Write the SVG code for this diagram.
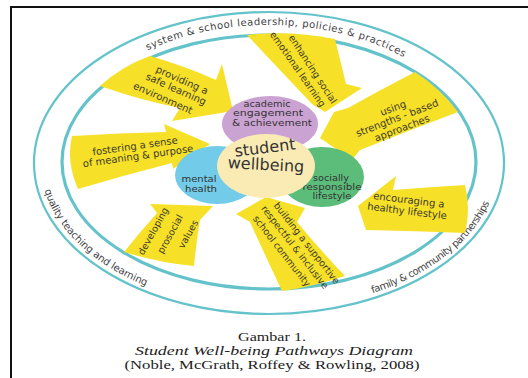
<svg xmlns="http://www.w3.org/2000/svg" width="528" height="378" viewBox="0 0 528 378">
<style>
.arrow{fill:#f6e128}
.at{font-family:"DejaVu Sans",sans-serif;font-size:10px;fill:#3d3a2a;text-anchor:middle}
.ct{font-family:"DejaVu Sans",sans-serif;font-size:8.8px;fill:#333;text-anchor:middle}
.big{font-size:16px}
.rt{font-family:"DejaVu Sans",sans-serif;font-size:10px;fill:#444}
.ring{fill:none;stroke:#64c3ca}
.cap{font-family:"Liberation Serif",serif;font-size:12.5px;fill:#222;text-anchor:middle}
.frame{stroke:#111;stroke-width:2;fill:none}
</style>
<defs>
<path id="pTop" d="M59 163 A210 138 0 0 1 479 163"/>
<path id="pLeft" d="M44 188.3 A229 146 0 0 0 269 309"/>
<path id="pRight" d="M365.8 295.3 A229 146 0 0 0 498 163"/>
</defs>
<rect width="528" height="378" fill="#fff"/>
<path class="frame" d="M11 378 V7 H528"/>

<g id="rings">
<ellipse class="ring" cx="269" cy="163" rx="235" ry="151" stroke-width="2.2"/>
<ellipse class="ring" cx="269" cy="162" rx="207" ry="127" stroke-width="3.2"/>
<text class="rt"><textPath href="#pTop" startOffset="151" textLength="265">system &amp; school leadership, policies &amp; practices</textPath></text>
<text class="rt"><textPath href="#pLeft" startOffset="2" textLength="144">quality teaching and learning</textPath></text>
<text class="rt"><textPath href="#pRight" startOffset="7" textLength="152">family &amp; community partnerships</textPath></text>
</g>

<g id="arrow-safe">
<path class="arrow" d="M100 86 Q122 66 150 56 Q185 66 216 80 L222 64 L233 111 L172 121 L180 108 Q140 100 100 86 Z"/>
<text class="at" transform="translate(182 80) rotate(24)" y="3.5">providing a</text>
<text class="at" transform="translate(176 89) rotate(24)" y="3.5">safe learning</text>
<text class="at" transform="translate(163 98) rotate(24)" y="3.5">environment</text>
</g>
<g id="arrow-social">
<path class="arrow" d="M247 35 Q290 30 335 39 L346 84 L362 88 L325 112 L312 104 Q280 70 247 35 Z"/>
<text class="at" style="font-size:9.5px" transform="translate(313 69) rotate(57)" y="3.5">enhancing social</text>
<text class="at" style="font-size:9.5px" transform="translate(298 69) rotate(55)" y="3.5">emotional learning</text>
</g>
<g id="arrow-strengths">
<path class="arrow" d="M415 72 Q440 88 458 112 Q410 130 360 150 L352 160 L320 138 L334 112 L348 108 Q380 90 415 72 Z"/>
<text class="at" transform="translate(393 108) rotate(-21)" y="3.5">using</text>
<text class="at" transform="translate(397 118) rotate(-21)" y="3.5">strengths - based</text>
<text class="at" transform="translate(402 128) rotate(-21)" y="3.5">approaches</text>
</g>
<g id="arrow-meaning">
<path class="arrow" d="M72 136 Q120 133 166 132 L164 124 L210 144 L173 169 L172 163 Q125 175 78 189 Q66 162 72 136 Z"/>
<text class="at" transform="translate(135 146) rotate(-8)" y="3.5">fostering a sense</text>
<text class="at" transform="translate(138 156) rotate(-8)" y="3.5">of meaning &amp; purpose</text>
</g>
<g id="arrow-healthy">
<path class="arrow" d="M465 185 Q430 187 393 190 L396 176 L358 206 L366 230 Q415 231 465 233 Q471 209 465 185 Z"/>
<text class="at" transform="translate(409 200) rotate(7)" y="3.5">encouraging a</text>
<text class="at" transform="translate(407 211) rotate(7)" y="3.5">healthy lifestyle</text>
</g>
<g id="arrow-prosocial">
<path class="arrow" d="M124 252 Q140 232 157 213 L150 204 L213 206 L200 220 Q196 243 194 266 Q160 263 124 252 Z"/>
<text class="at" style="font-size:9.5px" transform="translate(153 231) rotate(-61)" y="3.5">developing</text>
<text class="at" style="font-size:9.5px" transform="translate(170 234) rotate(-61)" y="3.5">prosocial</text>
<text class="at" style="font-size:9.5px" transform="translate(188 234) rotate(-61)" y="3.5">values</text>
</g>
<g id="arrow-community">
<path class="arrow" d="M236 214 L266 197 L305 208 L297 222 Q320 250 345 276 Q312 287 282 291 Q265 255 250 222 Z"/>
<text class="at" style="font-size:9.5px" transform="translate(307 243) rotate(52)" y="3.5">building a supportive</text>
<text class="at" style="font-size:9.5px" transform="translate(295 247) rotate(52)" y="3.5">respectful &amp; inclusive</text>
<text class="at" style="font-size:9.5px" transform="translate(282 251) rotate(52)" y="3.5">school community</text>
</g>

<g id="academic">
<ellipse cx="270" cy="124" rx="48" ry="28" fill="#cba3d3"/>
<text class="ct" x="267" y="106.5" textLength="47" lengthAdjust="spacingAndGlyphs">academic</text>
<text class="ct" x="268" y="116" textLength="70" lengthAdjust="spacingAndGlyphs">engagement</text>
<text class="ct" x="272" y="125.5" textLength="80" lengthAdjust="spacingAndGlyphs">&amp; achievement</text>
</g>
<g id="mental">
<ellipse cx="217" cy="175" rx="42" ry="29" fill="#72cbe8"/>
<text class="ct" style="font-size:9.5px" x="199" y="182" textLength="35" lengthAdjust="spacingAndGlyphs">mental</text>
<text class="ct" style="font-size:9.5px" x="201" y="192" textLength="32" lengthAdjust="spacingAndGlyphs">health</text>
</g>
<g id="social">
<ellipse cx="322" cy="177" rx="42" ry="30" fill="#5cbd7b"/>
<text class="ct" style="font-size:8.4px" x="331" y="181" textLength="36" lengthAdjust="spacingAndGlyphs">socially</text>
<text class="ct" style="font-size:8.4px" x="332" y="190" textLength="59" lengthAdjust="spacingAndGlyphs">responsible</text>
<text class="ct" style="font-size:8.4px" x="332" y="199" textLength="39" lengthAdjust="spacingAndGlyphs">lifestyle</text>
</g>
<g id="wellbeing">
<ellipse cx="266" cy="166" rx="49" ry="32" fill="#faebb5"/>
<text class="ct big" transform="translate(265 148) rotate(-7)" y="5">student</text>
<text class="ct big" transform="translate(266 165) rotate(3)" y="5">wellbeing</text>
</g>

<g id="caption">
<text class="cap" x="272" y="341" textLength="68" lengthAdjust="spacingAndGlyphs">Gambar 1.</text>
<text class="cap" x="274" y="355" font-style="italic" textLength="278" lengthAdjust="spacingAndGlyphs">Student Well-being Pathways Diagram</text>
<text class="cap" x="272" y="369" textLength="295" lengthAdjust="spacingAndGlyphs">(Noble, McGrath, Roffey &amp; Rowling, 2008)</text>
</g>
</svg>
